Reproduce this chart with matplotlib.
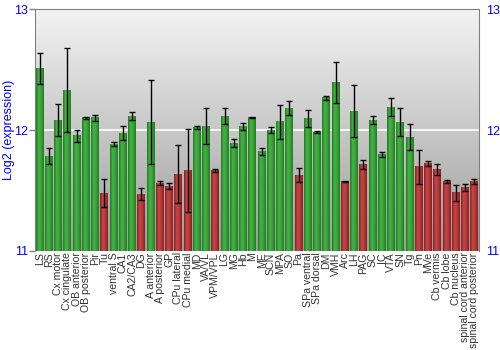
import matplotlib
matplotlib.use("Agg")
import matplotlib.pyplot as plt
import numpy as np
from matplotlib.colors import LinearSegmentedColormap

plt.rcParams["font.family"] = ["Liberation Sans", "DejaVu Sans"]

regions = ["LS", "RS", "Cx motor", "Cx cingulate", "OB anterior", "OB posterior",
           "Pir", "Tu", "ventral S", "CA1", "CA2/CA3", "DG", "A anterior",
           "A posterior", "GP", "CPu lateral", "CPu medial", "MD", "VA/VL",
           "VPM/VPL", "LG", "MG", "Hb", "M", "ME", "SCN", "MPA", "SO", "Pa",
           "SPa ventral", "SPa dorsal", "DM", "VMH", "Arc", "LH", "PAG", "SC",
           "IC", "VTA", "SN", "Tg", "Pn", "MVe", "Cb vermis", "Cb lobe",
           "Cb nucleus", "spinal cord anterior", "spinal cord posterior"]

expr = [12.51, 11.785, 12.083, 12.33, 11.953, 12.10, 12.10, 11.478, 11.884,
        11.975, 12.116, 11.47, 12.066, 11.561, 11.536, 11.635, 11.666, 12.022,
        12.033, 11.663, 12.116, 11.889, 12.028, 12.105, 11.820, 12.0, 12.069,
        12.18, 11.627, 12.094, 11.981, 12.268, 12.39, 11.575, 12.157, 11.715,
        12.083, 11.798, 12.19, 12.066, 11.942, 11.696, 11.721, 11.677, 11.572,
        11.481, 11.522, 11.575]

err = [0.13, 0.065, 0.135, 0.345, 0.048, 0.011, 0.028, 0.113, 0.013, 0.056,
       0.035, 0.05, 0.347, 0.018, 0.022, 0.239, 0.341, 0.014, 0.148, 0.011,
       0.069, 0.033, 0.03, 0.006, 0.03, 0.024, 0.142, 0.057, 0.055, 0.069,
       0.008, 0.017, 0.17, 0.003, 0.217, 0.036, 0.036, 0.022, 0.075, 0.113,
       0.11, 0.14, 0.019, 0.045, 0.011, 0.066, 0.028, 0.023]

# red = below-threshold regions
low = ["Tu", "DG", "A posterior", "GP", "CPu lateral", "CPu medial", "VPM/VPL",
       "Pa", "Arc", "PAG", "Pn", "MVe", "Cb vermis", "Cb lobe", "Cb nucleus",
       "spinal cord anterior", "spinal cord posterior"]

blue = "#0000ff"
green_cm = LinearSegmentedColormap.from_list("g", ["#1f7d1f", "#47b347", "#3aa23a", "#1f7d1f"])
red_cm = LinearSegmentedColormap.from_list("r", ["#8a1f1f", "#c44848", "#b43a3a", "#8a1f1f"])

fig = plt.figure(figsize=(5, 3.5), dpi=100)
ax = fig.add_axes([0.07, 0.283, 0.888, 0.691])

n = len(regions)
x = np.arange(n)
ax.set_xlim(-0.5, n - 0.5)
ax.set_ylim(11, 13)

# gray gradient background
bg = np.linspace(0, 1, 256).reshape(-1, 1)
bg_cm = LinearSegmentedColormap.from_list("bg", ["#9c9c9c", "#f3f3f3"])
ax.imshow(bg, cmap=bg_cm, extent=(-0.5, n - 0.5, 11, 13), aspect="auto",
          origin="lower", zorder=0)
ax.axhline(12, color="white", lw=1.2, zorder=1)

w = 0.86
grad = np.linspace(0, 1, 32).reshape(1, -1)
for i, (name, v) in enumerate(zip(regions, expr)):
    cm = red_cm if name in low else green_cm
    ax.imshow(grad, cmap=cm, extent=(i - w / 2, i + w / 2, 11, v),
              aspect="auto", zorder=2)
ax.errorbar(x, expr, yerr=err, fmt="none", ecolor="black", elinewidth=1,
            capsize=2, capthick=1, zorder=3)

ax.set_yticks([11, 12, 13])
ax.tick_params(axis="y", colors="#808080", labelcolor=blue, labelsize=9,
               length=4, width=1, pad=1, labelright=True, right=False)
ax.set_xticks(x)
ax.set_xticklabels(regions, rotation=90, fontsize=7.6, color="#333333")
ax.tick_params(axis="x", length=0, pad=1)
ax.set_ylabel("Log2 (expression)", color=blue, fontsize=9, va="center")
ax.yaxis.set_label_coords(-0.058, 0.5)

for s in ["left", "right", "top"]:
    ax.spines[s].set_color("#808080")
ax.spines["bottom"].set_visible(False)

fig.savefig("out.png", dpi=100)
